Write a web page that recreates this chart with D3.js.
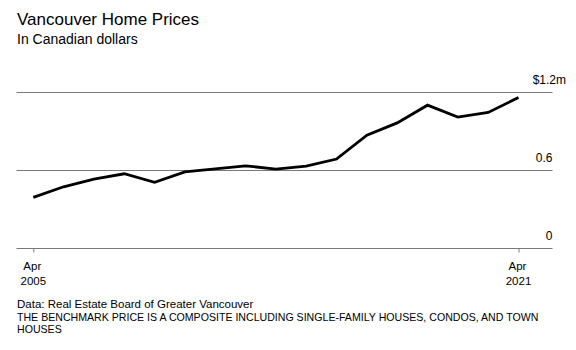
<!DOCTYPE html>
<html>
<head>
<meta charset="utf-8">
<script src="https://cdn.jsdelivr.net/npm/d3@7"></script>
<style>
  html, body { margin: 0; padding: 0; background: #fff; }
  svg { display: block; }
  text { font-family: "Liberation Sans", Arial, sans-serif; fill: #000; }
</style>
</head>
<body>
<svg id="chart" width="576" height="350"></svg>
<script>
// ---- data ----
const years = [2005, 2006, 2007, 2008, 2009, 2010, 2011, 2012, 2013, 2014, 2015, 2016, 2017, 2018, 2019, 2020, 2021];
const prices = [0.387, 0.468, 0.527, 0.568, 0.502, 0.583, 0.606, 0.629, 0.604, 0.627, 0.681, 0.865, 0.959, 1.095, 1.003, 1.039, 1.154];
const yTicks = [0, 0.6, 1.2];
const yTickLabels = ["0", "0.6", "$1.2m"];
const xTickYears = [2005, 2021];
const xTickLabels = [["Apr", "2005"], ["Apr", "2021"]];
const title = "Vancouver Home Prices";
const subtitle = "In Canadian dollars";
const sourceLine = "Data: Real Estate Board of Greater Vancouver";
const noteLines = ["THE BENCHMARK PRICE IS A COMPOSITE INCLUDING SINGLE-FAMILY HOUSES, CONDOS, AND TOWN", "HOUSES"];

const svg = d3.select("#chart");
const dates = years.map(y => new Date(y, 3, 1));

const x = d3.scaleTime()
  .domain([new Date(2005, 3, 1), new Date(2021, 3, 1)])
  .range([33.3, 518.5]);
const y = d3.scaleLinear().domain([0, 1.2]).range([247.7, 91.5]);

const gridLeft = 16.5, gridRight = 552.5;

// title
svg.append("text").attr("x", 17).attr("y", 25).attr("font-size", 17).text(title);
svg.append("text").attr("x", 17).attr("y", 43.5).attr("font-size", 14).text(subtitle);

// gridlines
svg.append("g").selectAll("line").data(yTicks).join("line")
  .attr("x1", gridLeft).attr("x2", gridRight)
  .attr("y1", d => Math.round(y(d)) + 0.5).attr("y2", d => Math.round(y(d)) + 0.5)
  .attr("stroke", "#7a7a7a").attr("stroke-width", 1);

// y labels
svg.append("g").selectAll("text").data(yTicks).join("text")
  .attr("x", (d, i) => i === yTicks.length - 1 ? 566 : 552.5)
  .attr("y", d => y(d) - 7.5)
  .attr("text-anchor", "end")
  .attr("font-size", 12)
  .text((d, i) => yTickLabels[i]);

// x axis ticks
const xAxis = d3.axisBottom(x)
  .tickValues(xTickYears.map(yy => new Date(yy, 3, 1)))
  .tickSize(4)
  .tickFormat("");
const gx = svg.append("g").attr("transform", `translate(0,${Math.round(y(0)) + 0.5})`).call(xAxis);
gx.select(".domain").remove();
gx.selectAll(".tick line").attr("stroke", "#7a7a7a");

// x labels
const xl = svg.append("g").selectAll("text").data(xTickYears).join("text")
  .attr("text-anchor", "middle")
  .attr("font-size", 11.5);
xl.each(function(d, i) {
  const t = d3.select(this);
  const cx = x(new Date(d, 3, 1));
  t.append("tspan").attr("x", cx - 1).attr("y", 270).text(xTickLabels[i][0]);
  t.append("tspan").attr("x", cx).attr("y", 284.5).text(xTickLabels[i][1]);
});

// line
const line = d3.line().x((d, i) => x(dates[i])).y(d => y(d));
svg.append("path").datum(prices)
  .attr("d", line)
  .attr("fill", "none")
  .attr("stroke", "#000")
  .attr("stroke-width", 2.8)
  .attr("stroke-linejoin", "miter")
  .attr("stroke-linecap", "butt");

// footer
svg.append("text").attr("x", 17).attr("y", 307.5).attr("font-size", 11.5).text(sourceLine);
svg.append("g").selectAll("text").data(noteLines).join("text")
  .attr("x", 17).attr("y", (d, i) => 321 + i * 12)
  .attr("font-size", 10.6)
  .text(d => d);
</script>
</body>
</html>
